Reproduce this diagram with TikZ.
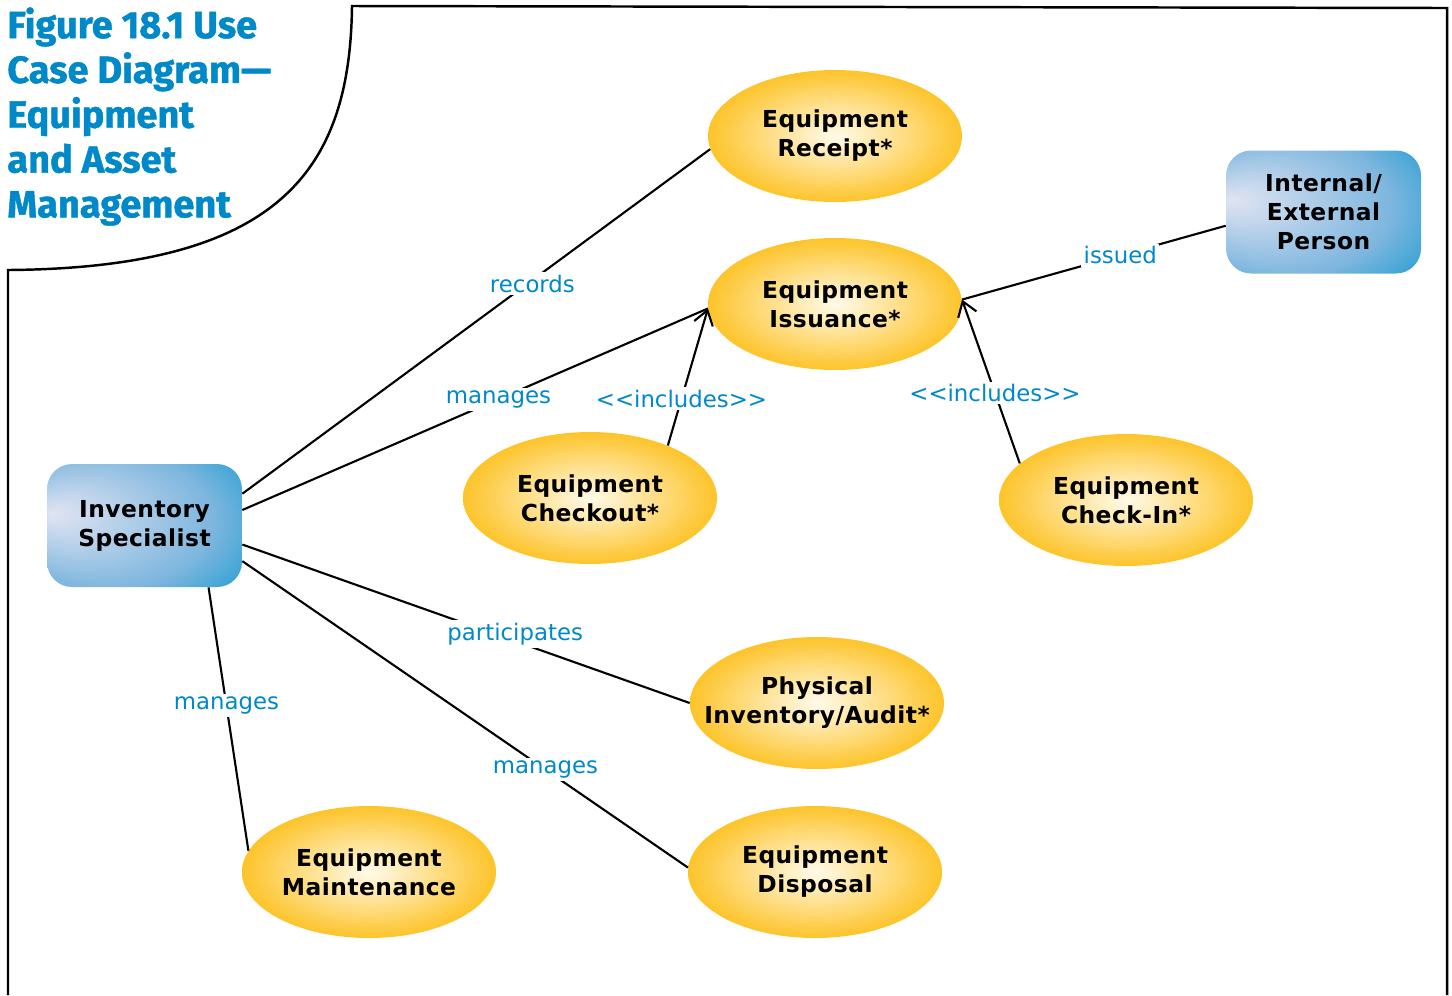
\documentclass[tikz,border=0pt]{standalone}
\usepackage{fontspec}
\setmainfont{DejaVu Sans}
\newfontfamily\titlefont{Fira Sans}[BoldFeatures={FakeBold=1.2}]
\usetikzlibrary{shapes.geometric,arrows.meta}

\definecolor{labelblue}{RGB}{0,137,200}
\definecolor{caseinner}{RGB}{255,250,234}
\definecolor{caseouter}{RGB}{253,196,42}
\definecolor{actorlight}{RGB}{225,228,242}
\definecolor{actormid}{RGB}{125,182,222}
\definecolor{actordark}{RGB}{8,150,206}
\pgfdeclareradialshading{actorshade}{\pgfpoint{-24bp}{5bp}}{color(0bp)=(actorlight); color(28bp)=(actormid); color(45bp)=(actordark); color(50bp)=(actordark)}

\newcommand\casefont{\fontsize{13.3}{16.5}\selectfont\bfseries\addfontfeature{LetterSpace=2}}
\newcommand\lblfont{\fontsize{13}{16}\selectfont}

\begin{document}
\begin{tikzpicture}[x=0.02cm, y=-0.02cm,
    usecase/.style = {ellipse, inner xsep=-1cm, inner ysep=0pt, minimum width=5.08cm, minimum height=2.64cm, inner color=caseinner, outer color=caseouter, align=center, font=\casefont},
    actor/.style = {rectangle, rounded corners=0.5cm, minimum width=3.9cm, minimum height=2.46cm, shading=actorshade, align=center, font=\casefont},
    lbl/.style = {fill=white, text=labelblue, font=\lblfont, inner sep=1.5pt},
    assoc/.style = {line width=1.2pt},
    incl/.style = {line width=1.2pt, -{Straight Barb[length=8pt,width=11pt]}}]
    \useasboundingbox (0,0) rectangle (1452,995);

    % frame with the title corner
    \draw[line width=1.4pt] (8,995) -- (8,270) .. controls (280,268) and (350,170) .. (352,6) -- (1447,8) -- (1447,995);
    \node[anchor=north west, align=left, inner sep=0pt, text=labelblue, font=\titlefont\fontsize{21.6}{25.5}\selectfont\bfseries] (title) at (7,7) {Figure 18.1 Use\\Case Diagram—\\Equipment\\and Asset\\Management};

    % use cases
    \node[usecase] (rec) at (835,136) {Equipment\\Receipt*};
    \node[usecase] (iss) at (835,304) {Equipment\\Issuance*};
    \node[usecase] (cout) at (590,498) {Equipment\\Checkout*};
    \node[usecase] (cin) at (1126,500) {Equipment\\Check-In*};
    \node[usecase] (phy) at (817,703) {Physical\\Inventory/Audit*};
    \node[usecase] (dis) at (815,872) {Equipment\\Disposal};
    \node[usecase] (mnt) at (369,872) {Equipment\\Maintenance};

    % actors
    \node[actor] (inv) at (144.5,525.5) {Inventory\\Specialist};
    \node[actor] (ext) at (1323.5,212) {Internal/\\External\\Person};

    % connectors
    \draw[assoc] (inv.18) -- node[lbl, pos=0.62, yshift=-2pt] {records} (rec.186);
    \draw[assoc] (inv.9) -- node[lbl, pos=0.55] {manages} (iss.182);
    \draw[incl] (cout.34) -- node[lbl, pos=0.34] {<{}<includes>{}>} (iss.182);
    \draw[incl] (cin.161) -- node[lbl, pos=0.43] {<{}<includes>{}>} (iss.2);
    \draw[assoc] (ext.188) -- node[lbl, pos=0.4] {issued} (iss.2);
    \draw[assoc] (inv.-11) -- node[lbl, pos=0.61, yshift=4pt] {participates} (phy.180);
    \draw[assoc] (inv.-20) -- node[lbl, pos=0.68] {manages} (dis.178);
    \draw[assoc] (inv.-44) -- node[lbl, pos=0.45] {manages} (mnt.170);
\end{tikzpicture}
\end{document}
